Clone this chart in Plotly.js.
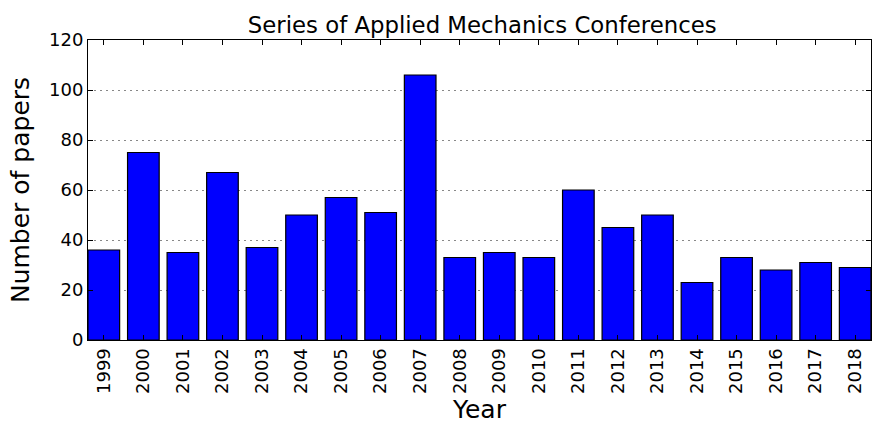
<!DOCTYPE html>
<html><head><meta charset="utf-8">
<script src="https://cdn.plot.ly/plotly-3.0.1.min.js"></script>
<style>html,body{margin:0;padding:0;background:#fff}</style>
</head><body>
<div id="chart" style="width:872px;height:424px"></div>
<script>
const years = ["1999","2000","2001","2002","2003","2004","2005","2006","2007","2008","2009","2010","2011","2012","2013","2014","2015","2016","2017","2018"];
const papers = [36,75,35,67,37,50,57,51,106,33,35,33,60,45,50,23,33,28,31,29];
const yTicks = [0,20,40,60,80,100,120];

const font = {family: "DejaVu Sans", color: "#000"};
Plotly.newPlot("chart", [{
  type: "bar",
  x: years,
  y: papers,
  width: 0.8,
  marker: {color: "#0000ff", line: {color: "#000", width: 1.2}}
}], {
  width: 872, height: 424,
  margin: {l: 88, r: 1, t: 40, b: 84},
  paper_bgcolor: "#fff", plot_bgcolor: "#fff",
  showlegend: false,
  font: Object.assign({size: 18}, font),
  title: {text: "Series of Applied Mechanics Conferences", font: Object.assign({size: 22.8}, font), x: 0.553, xanchor: "center", y: 0.941, yanchor: "middle"},
  xaxis: {
    type: "category",
    range: [-0.4, 19.4],
    tickangle: -90,
    ticks: "inside", ticklen: 5, tickcolor: "#000",
    showline: true, linecolor: "#000", linewidth: 1, mirror: "ticks",
    showgrid: false, zeroline: false,
    tickfont: Object.assign({size: 18}, font),
    title: {text: "Year", font: Object.assign({size: 25}, font), standoff: 10}
  },
  yaxis: {
    range: [0, 120],
    tickvals: yTicks,
    ticks: "inside", ticklen: 5, tickcolor: "#000",
    showline: true, linecolor: "#000", linewidth: 1, mirror: "ticks",
    showgrid: true, gridcolor: "#888", griddash: "1.5px,4.5px", gridwidth: 1,
    zeroline: false,
    tickfont: Object.assign({size: 18}, font),
    title: {text: "Number of papers", font: Object.assign({size: 25}, font), standoff: 12}
  }
}, {displayModeBar: false, staticPlot: true});
</script>
</body></html>
